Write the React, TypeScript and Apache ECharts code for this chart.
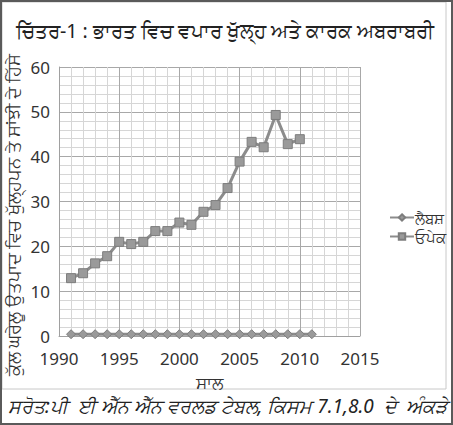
import React, { useEffect, useRef } from "react";
import * as echarts from "echarts";

const titleText = "ਚਿੱਤਰ-1 : ਭਾਰਤ ਵਿਚ ਵਪਾਰ ਖੁੱਲ੍ਹ ਅਤੇ ਕਾਰਕ ਅਬਰਾਬਰੀ";
const yAxisTitle = "ਕੁੱਲ ਘਰੇਲੂ ਉਤਪਾਦ ਵਿਚ ਖੁੱਲ੍ਹਪਨ ਤੇ ਸਾਂਝੀ ਦੇ ਹਿੱਸੇ";
const xAxisTitle = "ਸਾਲ";
const sourceText = "ਸਰੋਤ:ਪੀ  ਈ ਐੱਨ ਐੱਨ ਵਰਲਡ ਟੇਬਲ, ਕਿਸਮ 7.1,8.0  ਦੇ  ਅੰਕੜੇ";
const seriesNames = ["ਲੈਬਸ਼", "ਓਪੇਕ"];

const yearsA = [1991, 1992, 1993, 1994, 1995, 1996, 1997, 1998, 1999, 2000, 2001, 2002, 2003, 2004, 2005, 2006, 2007, 2008, 2009, 2010, 2011];
const valuesA = [0.4, 0.4, 0.4, 0.4, 0.4, 0.4, 0.4, 0.4, 0.4, 0.4, 0.4, 0.4, 0.4, 0.4, 0.4, 0.4, 0.4, 0.4, 0.4, 0.4, 0.4];

const yearsB = [1991, 1992, 1993, 1994, 1995, 1996, 1997, 1998, 1999, 2000, 2001, 2002, 2003, 2004, 2005, 2006, 2007, 2008, 2009, 2010];
const valuesB = [12.9, 14.0, 16.2, 17.8, 21.0, 20.5, 21.0, 23.4, 23.4, 25.3, 24.8, 27.7, 29.2, 33.0, 38.9, 43.3, 42.1, 49.3, 42.8, 43.9];

export default function App() {
  const ref = useRef<HTMLDivElement>(null);
  useEffect(() => {
    if (!ref.current) return;
    const chart = echarts.init(ref.current, undefined, { renderer: "svg" });
    const gFont = "'Noto Sans', 'DejaVu Sans', sans-serif";
    const lineColor = "#8c8c8c";
    chart.setOption({
      animation: false,
      backgroundColor: "#ffffff",
      textStyle: { fontFamily: gFont },
      grid: { left: 59, right: 93, top: 67, bottom: 89 },
      legend: {
        orient: "vertical",
        left: 384,
        top: 205,
        itemGap: 4,
        itemWidth: 24,
        itemHeight: 8,
        textStyle: { fontSize: 15, color: "#333", padding: [0, 0, 0, -4] },
        data: seriesNames,
      },
      xAxis: {
        type: "value",
        min: 1990,
        max: 2015,
        interval: 5,
        name: xAxisTitle,
        nameLocation: "middle",
        nameGap: 37,
        nameTextStyle: { fontSize: 17, color: "#333", lineHeight: 18 },
        axisLine: { show: true, lineStyle: { color: "#a0a0a0" } },
        axisTick: { show: false },
        axisLabel: { fontSize: 17, color: "#333", margin: 14, lineHeight: 16, formatter: (v: number) => String(v) },
        splitLine: { show: true, lineStyle: { color: "#a8a8a8", width: 1 } },
        minorTick: { show: false, splitNumber: 5 },
        minorSplitLine: { show: true, lineStyle: { color: "#d6d6d6", width: 1 } },
      },
      yAxis: {
        type: "value",
        min: 0,
        max: 60,
        interval: 10,
        axisLine: { show: true, lineStyle: { color: "#a0a0a0" } },
        axisTick: { show: false },
        axisLabel: { fontSize: 17, color: "#333", margin: 9, lineHeight: 16 },
        splitLine: { show: true, lineStyle: { color: "#a8a8a8", width: 1 } },
        minorTick: { show: false, splitNumber: 5 },
        minorSplitLine: { show: true, lineStyle: { color: "#d6d6d6", width: 1 } },
      },
      series: [
        {
          name: seriesNames[0],
          type: "line",
          data: yearsA.map((y, i) => [y, valuesA[i]]),
          symbol: "diamond",
          symbolSize: 9,
          lineStyle: { color: lineColor, width: 3 },
          itemStyle: { color: "#9a9a9a", borderColor: "#7d7d7d", borderWidth: 1 },
        },
        {
          name: seriesNames[1],
          type: "line",
          data: yearsB.map((y, i) => [y, valuesB[i]]),
          symbol: "rect",
          symbolSize: 9,
          lineStyle: { color: lineColor, width: 3 },
          itemStyle: { color: "#9a9a9a", borderColor: "#7d7d7d", borderWidth: 1 },
        },
      ],
      graphic: [
        {
          type: "rect",
          z: -1,
          silent: true,
          shape: { x: 2, y: 2, width: 444, height: 387 },
          style: { fill: "none", stroke: "#c8c8c8", lineWidth: 1 },
        },
        {
          type: "rect",
          silent: true,
          shape: { x: 1, y: 1, width: 451, height: 423 },
          style: { fill: "none", stroke: "#5a5a5a", lineWidth: 2 },
        },
        {
          type: "text",
          x: 16,
          y: 30,
          style: {
            text: titleText,
            fontSize: 19.5,
            fill: "#222",
            fontFamily: gFont,
            textVerticalAlign: "middle",
          },
        },
        {
          type: "text",
          x: 13,
          y: 215,
          rotation: Math.PI / 2,
          style: {
            text: yAxisTitle,
            fontSize: 17.5,
            fill: "#333",
            fontFamily: gFont,
            textAlign: "center",
            textVerticalAlign: "middle",
          },
        },
        {
          type: "text",
          x: 8,
          y: 406,
          style: {
            text: sourceText,
            fontSize: 19,
            lineHeight: 20,
            fontStyle: "italic",
            fill: "#222",
            fontFamily: gFont,
            textVerticalAlign: "middle",
          },
        },
      ],
    });
    return () => chart.dispose();
  }, []);
  return (
    <div
      ref={ref}
      style={{ position: "fixed", left: 0, top: 0, width: 453, height: 425 }}
    />
  );
}
